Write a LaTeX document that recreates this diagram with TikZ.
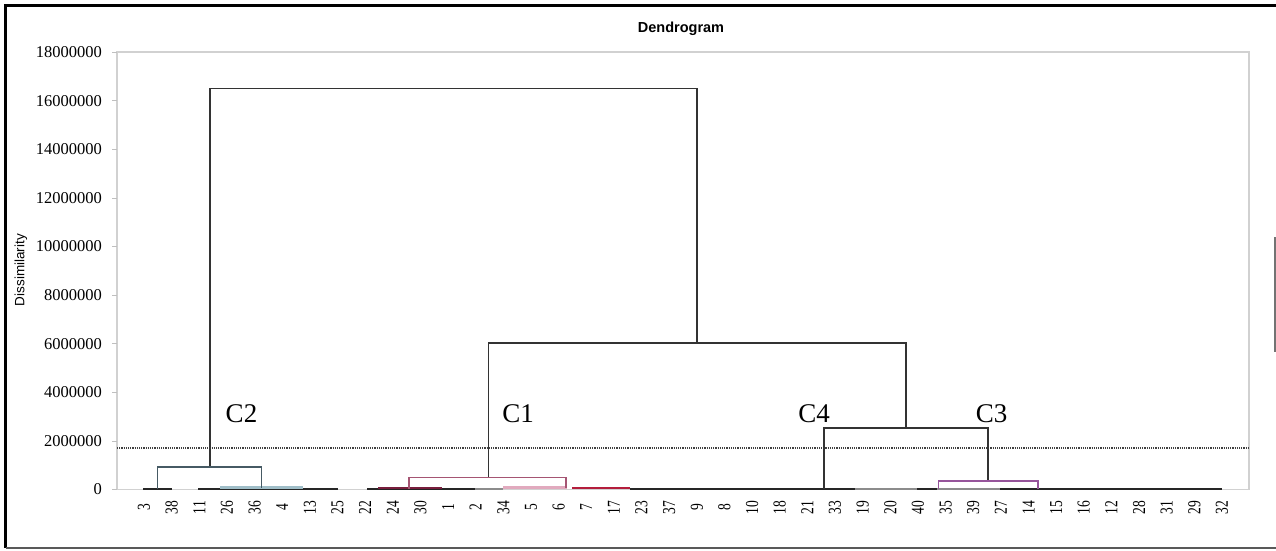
\documentclass[tikz,border=0pt]{standalone}
\usepackage{fontspec}
\setmainfont{Liberation Serif}
\newfontfamily\sansf{Liberation Sans}
\usepackage{graphicx}
\begin{document}
\begin{tikzpicture}[x=1pt,y=-1pt,
  axisline/.style={draw=black!18, line width=1.2pt},
  tickline/.style={draw=black!25, line width=0.8pt},
  ticklab/.style={anchor=east, inner sep=0pt, font=\fontsize{16.5}{17}\selectfont},
  leaf/.style={rotate=90, inner sep=0pt, font=\fontsize{13.5}{14}\selectfont},
  tree/.style={draw=black!80, line width=1.4pt},
  ctwo/.style={draw={rgb,255:red,70;green,90;blue,100}, line width=1.3pt},
  cone/.style={draw={rgb,255:red,165;green,85;blue,115}, line width=1.2pt},
  cthree/.style={draw={rgb,255:red,150;green,85;blue,155}, line width=1.2pt},
  base/.style={draw=black!85, line width=2pt},
  clab/.style={inner sep=0pt, font=\fontsize{27}{30}\selectfont}]
\useasboundingbox (0,0) rectangle (1276,550);
\fill[white] (0,0) rectangle (1276,550);
% outer frame
\draw[black, line width=2.2pt] (1280,5.5) -- (5.5,5.5) -- (5.5,548);
\draw[black!65, line width=1.6pt] (5.5,548) -- (1280,548);
\draw[black!55, line width=1.2pt] (1275,237) -- (1275,352);
% title and axis label
\node[font=\sansf\bfseries\fontsize{14.5}{16}\selectfont] (title) at (681,29) {Dendrogram};
\node[rotate=90, font=\sansf\fontsize{13.5}{15}\selectfont] (ylab) at (21,270) {Dissimilarity};
% plot area
\draw[axisline] (117,489.5) -- (117,52) -- (1249,52) -- (1249,489.5) -- cycle;
\foreach \i/\lab in {0/0,1/2000000,2/4000000,3/6000000,4/8000000,5/10000000,6/12000000,7/14000000,8/16000000,9/18000000}{
  \pgfmathsetmacro{\yy}{489.5-48.6*\i}
  \draw[tickline] (112,\yy) -- (117,\yy);
  \node[ticklab] (t\i) at (102,\yy) {\lab};
}
% cut line
\draw[black!75, line width=1.1pt, dash pattern=on 1.2pt off 1pt] (117,448) -- (1249,448);
% leaves
\foreach \lab [count=\i from 0] in {3,38,11,26,36,4,13,25,22,24,30,1,2,34,5,6,7,17,23,37,9,8,10,18,21,33,19,20,40,35,39,27,14,15,16,12,28,31,29,32}{
  \node[leaf] (L\lab) at ({144+27.64*\i},507.5) {\scalebox{1}[1.35]{\lab}};
}
% baseline segments (merges near zero)
\draw[base] (143,489) -- (172,489);
\draw[base] (198,489) -- (338,489);
\draw[base] (367,489) -- (475,489);
\draw[base] (630,489) -- (855,489);
\draw[base] (917,489) -- (937,489);
\draw[base] (1000,489) -- (1222,489);
\draw[draw=black!45, line width=2pt] (475,489) -- (503,489) (855,489) -- (917,489) (937,489) -- (1000,489);
\draw[draw={rgb,255:red,160;green,190;blue,200}, line width=2.2pt] (220,487.5) -- (303,487.5);
\draw[draw={rgb,255:red,120;green,30;blue,60}, line width=2.2pt] (378,488) -- (442,488);
\draw[draw={rgb,255:red,225;green,170;blue,190}, line width=2.2pt] (503,487.5) -- (567,487.5);
\draw[draw={rgb,255:red,180;green,30;blue,60}, line width=2.2pt] (572,488) -- (630,488);
% dendrogram links
\draw[tree] (210,467) -- (210,88.5) -- (697,88.5) -- (697,343);
\draw[ctwo] (157.7,489) -- (157.7,467) -- (261.7,467) -- (261.7,487.5);
\draw[tree] (488.5,477.7) -- (488.5,343) -- (906,343) -- (906,428);
\draw[cone] (409,489) -- (409,477.7) -- (566,477.7) -- (566,487.5);
\draw[tree] (824,489) -- (824,428) -- (988,428) -- (988,481);
\draw[cthree] (938.5,489) -- (938.5,481) -- (1038,481) -- (1038,489);
% cluster labels
\node[clab] (C2) at (241.5,414) {C2};
\node[clab] (C1) at (518,414) {C1};
\node[clab] (C4) at (814,414) {C4};
\node[clab] (C3) at (991.5,414) {C3};
\end{tikzpicture}
\end{document}
